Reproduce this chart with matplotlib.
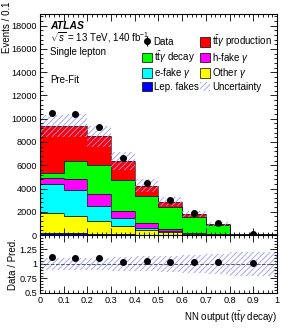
import numpy as np
import matplotlib
matplotlib.use('Agg')
import matplotlib.pyplot as plt
from matplotlib.ticker import MultipleLocator, FuncFormatter
from matplotlib.patches import Patch

plt.rcParams['font.family'] = ['Liberation Sans', 'DejaVu Sans']
plt.rcParams['mathtext.fontset'] = 'custom'
plt.rcParams['mathtext.rm'] = 'Liberation Sans'
plt.rcParams['mathtext.it'] = 'Liberation Sans:italic'
plt.rcParams['hatch.linewidth'] = 0.6

# bin edges of the NN output
edges = [0, 0.1, 0.2, 0.3, 0.4, 0.5, 0.6, 0.7, 0.8, 1.0]

# stack components, bottom to top
lep_fakes = [200, 140, 80, 50, 30, 20, 15, 10, 3]
other_g = [1670, 1500, 1160, 750, 400, 240, 95, 40, 5]
efake_g = [2500, 2240, 1260, 640, 200, 110, 30, 10, 3]
hfake_g = [520, 920, 1000, 660, 370, 120, 30, 20, 4]
tty_dec = [480, 1580, 2530, 2640, 2360, 1890, 1410, 770, 70]
tty_prod = [4030, 3020, 2450, 1640, 890, 500, 230, 110, 5]

data = [10500, 10430, 9280, 6640, 4480, 2990, 1880, 1000, 92]
rel_unc = [0.10, 0.105, 0.11, 0.12, 0.13, 0.14, 0.15, 0.17, 0.20]

comps = [
    (lep_fakes, '#0000ff', 'Lep. fakes'),
    (other_g, '#ffff00', r'Other $\gamma$'),
    (efake_g, '#00ffff', r'e-fake $\gamma$'),
    (hfake_g, '#ff00ff', r'h-fake $\gamma$'),
    (tty_dec, '#00ff00', r'$\mathrm{t\bar{t}}\gamma$ decay'),
    (tty_prod, '#ff0000', r'$\mathrm{t\bar{t}}\gamma$ production'),
]

edges_a = np.array(edges)
centers = 0.5 * (edges_a[1:] + edges_a[:-1])
data_a = np.array(data, float)

fig = plt.figure(figsize=(2.91, 3.28), dpi=100)
ax = fig.add_axes([0.137, 0.2835, 0.815, 0.6735])
rax = fig.add_axes([0.137, 0.107, 0.815, 0.1765], sharex=ax)

fs = 7
tfs = 6.6
base = np.zeros(len(centers))
handles = {}
for vals, col, lab in comps:
    v = np.array(vals, float)
    ax.stairs(base + v, edges_a, baseline=base, fill=True, color=col, lw=0)
    ax.stairs(base + v, edges_a, baseline=base, fill=False, color='#202020', lw=0.5)
    handles[lab] = Patch(facecolor=col, edgecolor='black', lw=0.5)
    base = base + v
total = base

unc = total * np.array(rel_unc)
hcol = '#9a9aff'
ax.stairs(total + unc, edges_a, baseline=total - unc, fill=True,
          facecolor='none', edgecolor=hcol, hatch='//////', lw=0)
unc_h = Patch(facecolor='none', edgecolor=hcol, hatch='//////', lw=0)

dat_h = ax.errorbar(centers, data_a, yerr=np.sqrt(data_a), fmt='o', color='black',
                    ms=4, elinewidth=0.8, capsize=0)

ax.set_xlim(0, 1)
ax.set_ylim(0, 19000)
ax.yaxis.set_major_locator(MultipleLocator(2000))
ax.yaxis.set_minor_locator(MultipleLocator(400))
fig.text(0.006, 0.995, 'Events / 0.1', fontsize=fs, rotation=90, ha='left', va='top')

ax.text(0.042, 18000, 'ATLAS', fontsize=7.5, fontweight='bold', style='italic', va='center')
ax.text(0.042, 17000, r'$\sqrt{s}$ = 13 TeV, 140 fb$^{-1}$', fontsize=fs, va='center')
ax.text(0.042, 15750, 'Single lepton', fontsize=fs, va='center')
ax.text(0.042, 13350, 'Pre-Fit', fontsize=fs, va='center')

leg_h = [dat_h, handles[r'$\mathrm{t\bar{t}}\gamma$ decay'], handles[r'e-fake $\gamma$'],
         handles['Lep. fakes'], handles[r'$\mathrm{t\bar{t}}\gamma$ production'],
         handles[r'h-fake $\gamma$'], handles[r'Other $\gamma$'], unc_h]
leg_l = ['Data', r'$\mathrm{t\bar{t}}\gamma$ decay', r'e-fake $\gamma$', 'Lep. fakes',
         r'$\mathrm{t\bar{t}}\gamma$ production', r'h-fake $\gamma$', r'Other $\gamma$', 'Uncertainty']
ax.legend(leg_h, leg_l, ncol=2, fontsize=fs, frameon=False, loc='upper left',
          bbox_to_anchor=(0.41, 0.935), handlelength=1.0, handleheight=1.1,
          handletextpad=0.2, columnspacing=0.2, labelspacing=0.15, borderpad=0)

# ratio panel
ratio = data_a / total
ru = np.array(rel_unc)
rax.stairs(1 + ru, edges_a, baseline=1 - ru, fill=True, facecolor='none',
           edgecolor=hcol, hatch='//////', lw=0)
rax.axhline(1, color='#555555', ls='--', lw=0.7)
rax.plot(centers, ratio, 'o', color='black', ms=4)
rax.set_ylim(0.5, 1.5)
rax.yaxis.set_major_locator(MultipleLocator(0.25))
rax.yaxis.set_minor_locator(MultipleLocator(0.05))
rax.yaxis.set_major_formatter(FuncFormatter(lambda v, p: '' if v > 1.4 else '%g' % v))
rax.set_ylabel('Data / Pred.', fontsize=fs, labelpad=1)
rax.xaxis.set_major_locator(MultipleLocator(0.1))
rax.xaxis.set_minor_locator(MultipleLocator(0.02))
rax.xaxis.set_major_formatter(FuncFormatter(lambda v, p: '%g' % round(v, 2)))
rax.set_xlabel(r'NN output ($\mathrm{t\bar{t}}\gamma$ decay)', fontsize=fs, loc='right', labelpad=3)

for a in (ax, rax):
    a.tick_params(which='both', direction='in', top=True, right=True, labelsize=tfs, pad=2)
    a.tick_params(which='major', length=5, width=0.6)
    a.tick_params(which='minor', length=2.5, width=0.6)
    for s in a.spines.values():
        s.set_linewidth(0.8)
plt.setp(ax.get_xticklabels(), visible=False)

fig.savefig('out.png', dpi=100)
